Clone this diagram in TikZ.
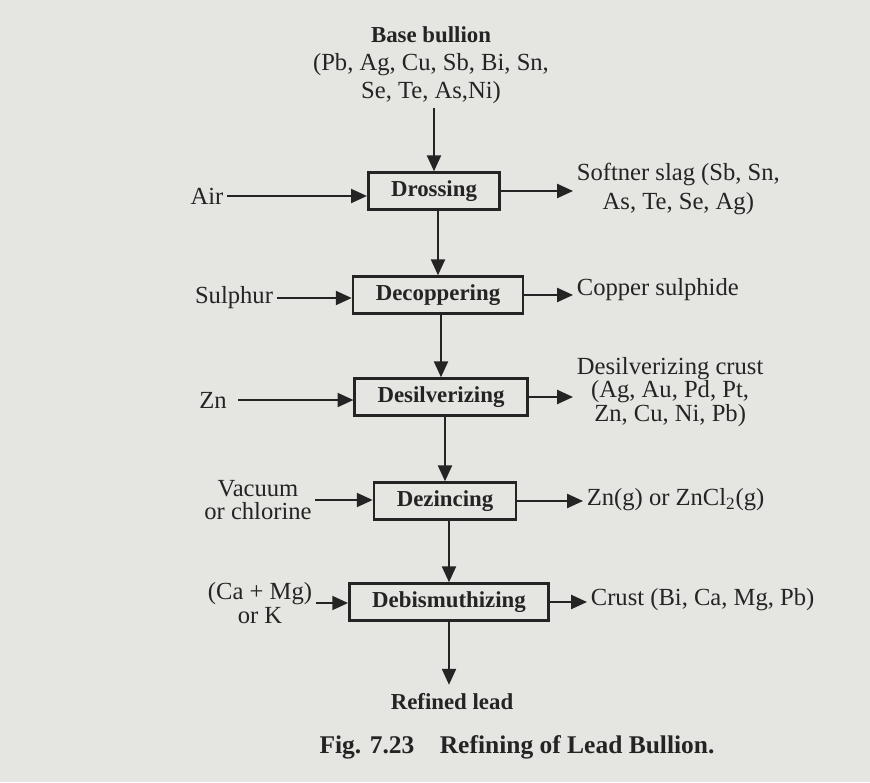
\documentclass[tikz,border=0pt]{standalone}
\usepackage{fontspec}
\setmainfont{Liberation Serif}
\usetikzlibrary{arrows.meta, positioning}
\definecolor{paper}{RGB}{229,229,226}
\definecolor{ink}{RGB}{36,36,36}
\tikzset{
    stage/.style = {rectangle, draw=ink, line width=1.5pt, inner xsep=13pt, minimum height=21pt, text=ink, font=\fontsize{13}{16}\selectfont\bfseries},
    feed/.style = {align=center, inner sep=2pt, text=ink, font=\fontsize{14}{13.5}\selectfont},
    arrow/.style = {draw=ink, line width=1pt, -{Triangle[length=9pt, width=8pt]}}
}

\begin{document}
\begin{tikzpicture}[x=0.02cm, y=-0.02cm]
\fill[paper] (0,0) rectangle (870,782);

\node[feed, font=\fontsize{14}{16}\selectfont] (bullion) at (431,65) {{\fontsize{13}{16}\selectfont\bfseries Base bullion}\\(Pb, Ag, Cu, Sb, Bi, Sn,\\Se, Te, As,Ni)};

\node[stage] (dross) at (434,191) {Drossing};
\node[stage] (decop) at (438,295) {Decoppering};
\node[stage] (desil) at (441,397) {Desilverizing};
\node[stage] (dezinc) at (445,501) {Dezincing};
\node[stage] (debis) at (449,602) {Debismuthizing};

\node[feed, font=\fontsize{13}{16}\selectfont\bfseries, inner sep=5pt] (refined) at (452,702) {Refined lead};
\node[text=ink, font=\fontsize{14.5}{16}\selectfont\bfseries] (caption) at (517,747) {Fig. 7.23\quad Refining of Lead Bullion.};

\node[feed] (air) at (207,196) {Air};
\node[feed] (sulphur) at (234,298) {Sulphur};
\node[feed, inner xsep=6pt] (zn) at (213,400) {Zn};
\node[feed] (vacuum) at (258,500) {Vacuum\\or chlorine};
\node[feed] (cak) at (260,603) {(Ca + Mg)\\or K};

\node[feed, anchor=west, font=\fontsize{14}{16}\selectfont] (softner) at (573,189) {Softner slag (Sb, Sn,\\As, Te, Se, Ag)};
\node[feed, anchor=west] (copper) at (573,290) {Copper sulphide};
\node[feed, anchor=west] (crust) at (573,392) {Desilverizing crust\\(Ag, Au, Pd, Pt,\\Zn, Cu, Ni, Pb)};
\node[feed, anchor=west] (zngas) at (583,500) {Zn(g) or ZnCl\textsubscript{2}(g)};
\node[feed, anchor=west] (bicrust) at (587,600) {Crust (Bi, Ca, Mg, Pb)};

\draw[arrow] (dross.north |- bullion.south) -- (dross.north);
\draw[arrow] (decop.north |- dross.south) -- (decop.north);
\draw[arrow] (desil.north |- decop.south) -- (desil.north);
\draw[arrow] (dezinc.north |- desil.south) -- (dezinc.north);
\draw[arrow] (debis.north |- dezinc.south) -- (debis.north);
\draw[arrow] (debis.south) -- (debis.south |- refined.north);

\draw[arrow] (air.east) -- (air.east -| dross.west);
\draw[arrow] (sulphur.east) -- (sulphur.east -| decop.west);
\draw[arrow] (zn.east) -- (zn.east -| desil.west);
\draw[arrow] (vacuum.east) -- (vacuum.east -| dezinc.west);
\draw[arrow] (cak.east) -- (cak.east -| debis.west);

\draw[arrow] (dross.east) -- (dross.east -| softner.west);
\draw[arrow] (decop.east) -- (decop.east -| copper.west);
\draw[arrow] (desil.east) -- (desil.east -| crust.west);
\draw[arrow] (dezinc.east) -- (dezinc.east -| zngas.west);
\draw[arrow] (debis.east) -- (debis.east -| bicrust.west);

\end{tikzpicture}
\end{document}
